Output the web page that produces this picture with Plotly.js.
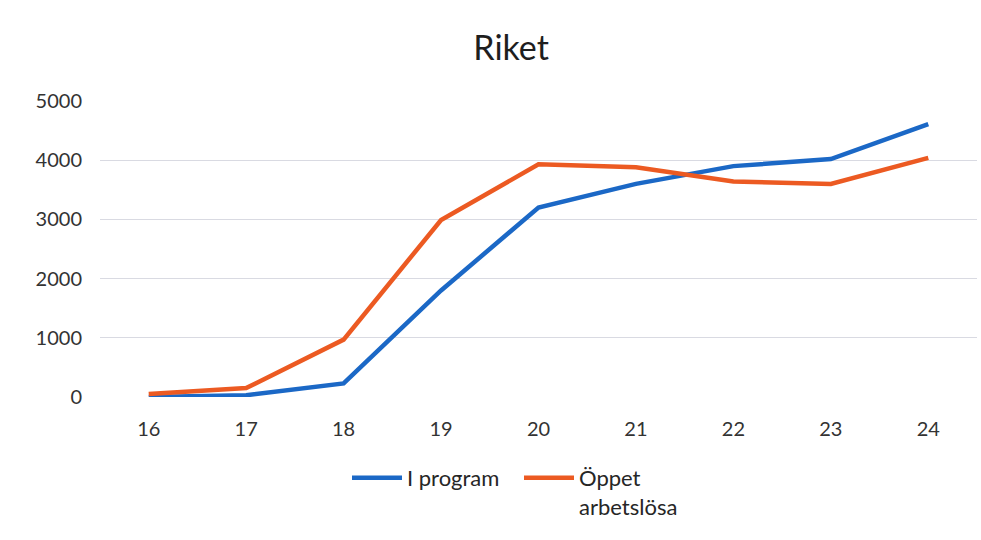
<!DOCTYPE html>
<html>
<head>
<meta charset="utf-8">
<script src="https://cdn.plot.ly/plotly-3.0.1.min.js"></script>
<style>html,body{margin:0;padding:0;background:#fff}#chart{width:981px;height:540px}</style>
</head>
<body>
<div id="chart"></div>
<script>
const ages = ['16','17','18','19','20','21','22','23','24'];
const iProgram = [0, 30, 230, 1800, 3200, 3600, 3900, 4020, 4610];
const oppetArbetslosa = [50, 150, 970, 2990, 3930, 3880, 3640, 3600, 4040];
const seriesNames = ['I program', 'Öppet<br>arbetslösa'];
const yTicks = [0, 1000, 2000, 3000, 4000, 5000];

const font = {family: 'Lato, "Open Sans", "Liberation Sans", sans-serif', color: '#333333'};

const traces = [
  {x: ages, y: iProgram, name: seriesNames[0], type: 'scatter', mode: 'lines',
   line: {color: '#1b68c6', width: 4.5}},
  {x: ages, y: oppetArbetslosa, name: seriesNames[1], type: 'scatter', mode: 'lines',
   line: {color: '#ec5a22', width: 4.5}}
];

const layout = {
  width: 981, height: 540,
  paper_bgcolor: '#ffffff', plot_bgcolor: '#ffffff',
  margin: {l: 100, r: 4, t: 101, b: 143},
  title: {text: 'Riket', x: 0.521, xref: 'container', xanchor: 'center', y: 0.911, yref: 'container', yanchor: 'middle',
          font: Object.assign({}, font, {size: 34, color: '#1e1e1e'})},
  xaxis: {type: 'category', range: [-0.5, 8.5], showgrid: false, zeroline: false, showline: false,
          ticks: '', ticklabelstandoff: 18, tickfont: Object.assign({}, font, {size: 20}), fixedrange: true},
  yaxis: {range: [0, 5000], tickvals: yTicks, ticktext: yTicks.map(String), showgrid: true, gridcolor: '#d9dae2',
          gridwidth: 1, zeroline: false, showline: false, ticks: '', ticklabelstandoff: 17,
          tickfont: Object.assign({}, font, {size: 20})},
  showlegend: true,
  legend: {orientation: 'h', x: 347/981, xanchor: 'left', xref: 'container', y: 1 - 457/540, yref: 'container', yanchor: 'top',
           valign: 'top', font: Object.assign({}, font, {size: 22, color: '#262626'}), entrywidth: 107,
           itemwidth: 50, bgcolor: 'rgba(0,0,0,0)'},
  font: font
};

Plotly.newPlot('chart', traces, layout, {displayModeBar: false, staticPlot: true});
</script>
</body>
</html>
